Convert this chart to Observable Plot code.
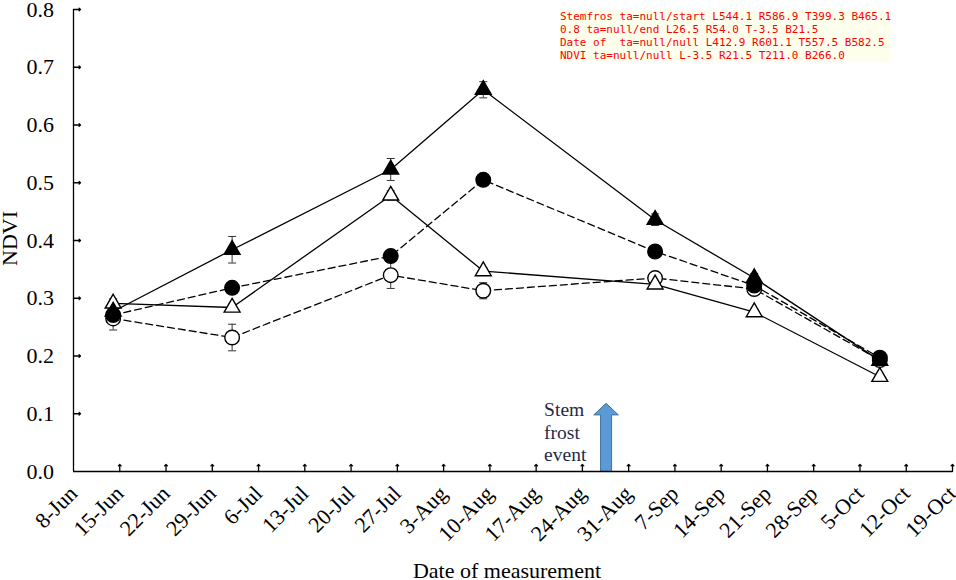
<!DOCTYPE html>
<html><head><meta charset="utf-8">
<script src="https://cdn.jsdelivr.net/npm/d3@7"></script>
<script src="https://cdn.jsdelivr.net/npm/@observablehq/plot@0.6"></script>
<style>body{margin:0;background:#fff} svg{display:block;background:#fff} svg text{font-family:"Liberation Serif","Times New Roman",serif !important}
#dbg{position:absolute;left:560px;top:10px;font:11px monospace;color:red;background:#ffe;white-space:pre}</style>
</head><body><div id="chart"></div><div id="dbg"></div>
<script>
// ---- data ----
const measureDates = ["2021-06-14","2021-07-02","2021-07-26","2021-08-09","2021-09-04","2021-09-19","2021-10-08"];
const filledTriangle = [0.277, 0.384, 0.523, 0.661, 0.436, 0.335, 0.192];
const filledTriangleErr = [0.008, 0.023, 0.019, 0.014, 0.010, 0.008, 0.005];
const filledCircle = [0.271, 0.318, 0.373, 0.505, 0.381, 0.322, 0.197];
const filledCircleErr = [0.008, 0.008, 0.008, 0.006, 0.006, 0.006, 0.005];
const openTriangle = [0.291, 0.284, 0.478, 0.347, 0.324, 0.276, 0.164];
const openTriangleErr = [0.008, 0.006, 0.008, 0.006, 0.006, 0.005, 0.005];
const openCircle = [0.265, 0.232, 0.340, 0.313, 0.335, 0.316, 0.193];
const openCircleErr = [0.020, 0.023, 0.023, 0.014, 0.010, 0.008, 0.006];
const xTickLabels = ["8-Jun","15-Jun","22-Jun","29-Jun","6-Jul","13-Jul","20-Jul","27-Jul","3-Aug","10-Aug","17-Aug","24-Aug","31-Aug","7-Sep","14-Sep","21-Sep","28-Sep","5-Oct","12-Oct","19-Oct"];
const yTicks = [0, 0.1, 0.2, 0.3, 0.4, 0.5, 0.6, 0.7, 0.8];
const frostEvent = {date: "2021-08-27T14:00", label: ["Stem", "frost", "event"], top: 0.118, headBase: 0.098, textDate: "2021-08-18T05:00"};
const xLabel = "Date of measurement";
const yLabel = "NDVI";

// ---- build ----
const W = 956, H = 580, mT = 9, mB = 109, mL = 73, mR = 4;
const parseTick = d3.utcParse("%d-%b-%Y");
const tickDates = xTickLabels.map(l => parseTick(l + "-2021"));
const fmtTick = d3.utcFormat("%-d-%b");
const pDates = measureDates.map(d => new Date(d + "T00:00Z"));

const seriesDefs = [
  {name: "openCircle", values: openCircle, err: openCircleErr, symbol: "circle", fill: "white", dash: "7,4", r: 7.3},
  {name: "openTriangle", values: openTriangle, err: openTriangleErr, symbol: "triangle", fill: "white", dash: null, r: 5.9},
  {name: "filledCircle", values: filledCircle, err: filledCircleErr, symbol: "circle", fill: "black", dash: "7,4", r: 7.3},
  {name: "filledTriangle", values: filledTriangle, err: filledTriangleErr, symbol: "triangle", fill: "black", dash: null, r: 5.9}
];
const rows = s => s.values.map((v, i) => ({date: pDates[i], v, lo: v - s.err[i], hi: v + s.err[i]}));

const capSymbol = {draw(ctx) { ctx.moveTo(-4, 0); ctx.lineTo(4, 0); }};
const plotH = H - mT - mB;
const pxPerUnit = plotH / 0.8;
const arrowSymbol = {draw(ctx) {
  const hb = frostEvent.headBase * pxPerUnit, tp = frostEvent.top * pxPerUnit;
  ctx.moveTo(-5.5, 0); ctx.lineTo(-5.5, -hb); ctx.lineTo(-12.3, -hb); ctx.lineTo(0, -tp);
  ctx.lineTo(12.3, -hb); ctx.lineTo(5.5, -hb); ctx.lineTo(5.5, 0); ctx.closePath();
}};

const font = '"Liberation Serif", "Times New Roman", serif';
const marks = [];
marks.push(Plot.dot([frostEvent], {x: d => new Date(d.date + "Z"), y: 0, symbol: arrowSymbol, r: 5, fill: "#5b9bd5", stroke: "#41719c", strokeWidth: 1}));
marks.push(Plot.text([frostEvent], {x: d => new Date(d.textDate + "Z"), y: d => d.top, text: d => d.label.join("\n"), textAnchor: "start", lineAnchor: "top", lineHeight: 1.15, dy: -3, fontSize: 19.5, fill: "#1e2a4a", fontFamily: font}));
for (const s of seriesDefs) {
  marks.push(Plot.line(rows(s), {x: "date", y: "v", stroke: "black", strokeWidth: 1.3, strokeDasharray: s.dash}));
}
for (const s of seriesDefs) {
  const r = rows(s);
  marks.push(Plot.ruleX(r, {x: "date", y1: "lo", y2: "hi", stroke: "#333", strokeWidth: 1}));
  marks.push(Plot.dot(r, {x: "date", y: "lo", symbol: capSymbol, stroke: "#333", strokeWidth: 1}));
  marks.push(Plot.dot(r, {x: "date", y: "hi", symbol: capSymbol, stroke: "#333", strokeWidth: 1}));
}
for (const s of seriesDefs) {
  marks.push(Plot.dot(rows(s), {x: "date", y: "v", symbol: s.symbol, r: s.r, fill: s.fill, stroke: "black", strokeWidth: 1.4}));
}
marks.push(Plot.ruleY([0], {stroke: "black", strokeWidth: 1.3}));
marks.push(Plot.ruleX([tickDates[0]], {stroke: "black", strokeWidth: 1.3}));
marks.push(Plot.vector(tickDates.slice(1), {x: d => d, frameAnchor: "bottom", length: 7, anchor: "start", rotate: 0, stroke: "black", strokeWidth: 1.3}));
marks.push(Plot.vector(yTicks.slice(1), {y: d => d, frameAnchor: "left", length: 7, anchor: "start", rotate: 90, stroke: "black", strokeWidth: 1.3}));
marks.push(Plot.axisY({ticks: yTicks, tickFormat: d3.format(".1f"), tickSize: 0, tickPadding: 19.5, fontSize: 22, fontFamily: font, fill: "black", label: null}));
marks.push(Plot.axisX({ticks: tickDates, tickFormat: fmtTick, tickSize: 0, tickPadding: 18.5, tickRotate: -45, dx: 0, fontSize: 22, fontFamily: font, fill: "black", label: null}));
marks.push(Plot.text([xLabel], {text: d => d, frameAnchor: "bottom", textAnchor: "middle", dx: -6, dy: 106, lineAnchor: "bottom", fontSize: 22, fontFamily: font, fill: "black"}));
marks.push(Plot.text([yLabel], {text: d => d, frameAnchor: "left", textAnchor: "middle", dx: -64, dy: -2, rotate: -90, fontSize: 22, fontFamily: font, fill: "black"}));

const chart = Plot.plot({
  width: W, height: H,
  marginTop: mT, marginBottom: mB, marginLeft: mL, marginRight: mR,
  x: {type: "utc", domain: [tickDates[0], tickDates[tickDates.length - 1]]},
  y: {domain: [0, 0.8]},
  marks
});
document.getElementById("chart").appendChild(chart);
let out = "";
for (const t of chart.querySelectorAll("text")) {
  if (!["0.8","NDVI","Date of measurement"].includes(t.textContent) && !t.textContent.startsWith("Stem")) continue;
  const b = t.getBoundingClientRect();
  out += t.textContent.slice(0,8) + " ta=" + t.getAttribute("text-anchor") + "/" + (t.parentNode.getAttribute("text-anchor")) + " L" + b.left.toFixed(1) + " R" + b.right.toFixed(1) + " T" + b.top.toFixed(1) + " B" + b.bottom.toFixed(1) + "\n";
}
document.getElementById("dbg").textContent = out;
</script>
</body></html>
